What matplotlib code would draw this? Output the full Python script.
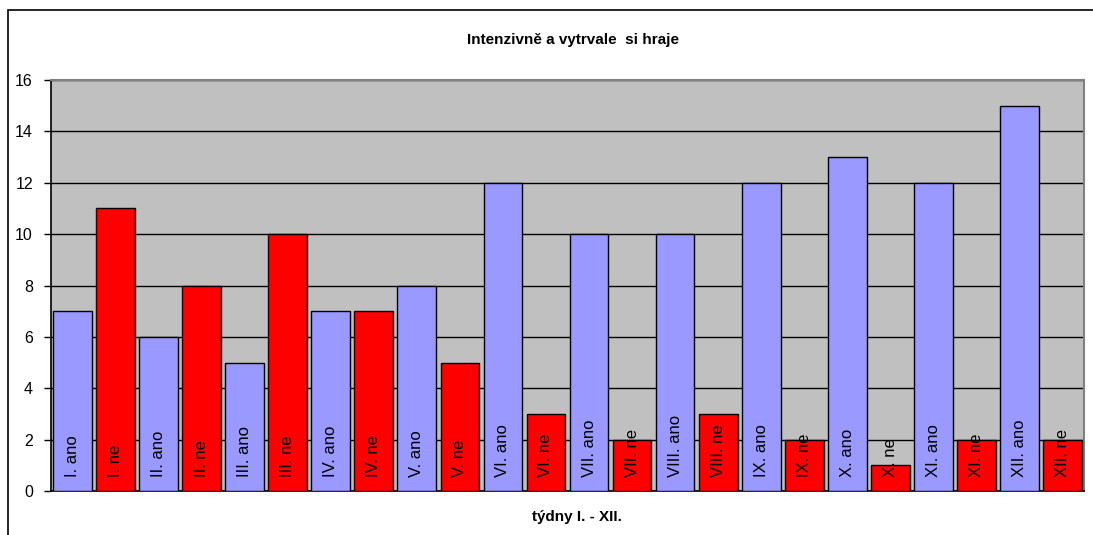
import matplotlib
matplotlib.use('Agg')
import matplotlib.pyplot as plt
import numpy as np

plt.rcParams['font.family'] = ['Liberation Sans', 'DejaVu Sans']

# data
tydny = ['I.', 'II.', 'III.', 'IV.', 'V.', 'VI.', 'VII.', 'VIII.', 'IX.', 'X.', 'XI.', 'XII.']
ano = [7, 6, 5, 7, 8, 12, 10, 10, 12, 13, 12, 15]
ne = [11, 8, 10, 7, 5, 3, 2, 3, 2, 1, 2, 2]

labels = []
values = []
colors = []
for t, a, n in zip(tydny, ano, ne):
    labels += [t + ' ano', t + ' ne']
    values += [a, n]
    colors += ['#9999FF', '#FF0000']

fig = plt.figure(figsize=(10.93, 5.35), dpi=100)
# vnejsi ramecek grafu
fig.patches.append(plt.Rectangle((8 / 1093, -0.1), 1.2, 1 - 10 / 535 + 0.1,
                                 transform=fig.transFigure, fill=False,
                                 edgecolor='black', linewidth=1.2))

ax = fig.add_axes([51 / 1093, 1 - 491 / 535, (1084 - 51) / 1093, (491 - 80) / 535])
ax.set_facecolor('#C0C0C0')

x = np.arange(len(values))
ax.bar(x, values, width=0.9, color=colors, edgecolor='black', linewidth=1, zorder=3)

for xi, lab in zip(x, labels):
    ax.annotate(lab, xy=(xi, 0), xytext=(0, 10), textcoords='offset points',
                rotation=90, ha='center', va='bottom', fontsize=12,
                color='black', zorder=4)

ax.set_xlim(-0.5, len(values) - 0.5)
ax.set_ylim(0, 16)
ax.set_yticks(range(0, 17, 2))
ax.set_xticks([])
ax.yaxis.grid(True, color='black', linewidth=1, zorder=0)
ax.set_axisbelow(True)
ax.tick_params(axis='y', direction='out', length=5, width=1, labelsize=11.5, pad=8)

ax.spines['left'].set_color('black')
ax.spines['left'].set_linewidth(1.2)
ax.spines['bottom'].set_color('black')
ax.spines['bottom'].set_linewidth(1.2)
ax.spines['top'].set_color('#808080')
ax.spines['top'].set_linewidth(1.5)
ax.spines['right'].set_color('#808080')
ax.spines['right'].set_linewidth(1.5)

fig.text(573 / 1093, 1 - 40 / 535, 'Intenzivně a vytrvale  si hraje', ha='center', va='center',
         fontsize=11, fontweight='bold')
fig.text(577 / 1093, 1 - 517 / 535, 'týdny I. - XII.', ha='center', va='center',
         fontsize=11, fontweight='bold')

fig.savefig('out.png', dpi=100)
